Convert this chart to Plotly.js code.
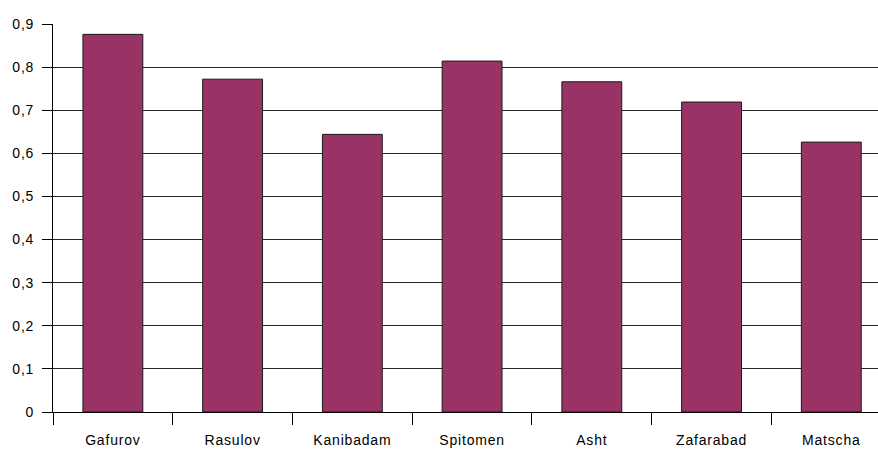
<!DOCTYPE html>
<html>
<head>
<meta charset="utf-8">
<script src="https://cdn.plot.ly/plotly-3.0.1.min.js"></script>
<style>
  html, body { margin: 0; padding: 0; background: #fff; }
  #chart { width: 878px; height: 450px; }
  .xtick text, .ytick text { letter-spacing: 0.8px; }
</style>
</head>
<body>
<div id="chart"></div>
<script>
const categories = ["Gafurov", "Rasulov", "Kanibadam", "Spitomen", "Asht", "Zafarabad", "Matscha"];
const values = [0.876, 0.772, 0.644, 0.814, 0.766, 0.719, 0.626];
const yTickValues = [0, 0.1, 0.2, 0.3, 0.4, 0.5, 0.6, 0.7, 0.8, 0.9];

const trace = {
  type: "bar",
  x: categories,
  y: values,
  marker: { color: "#993366", line: { color: "#1a1a1a", width: 1 } },
  hoverinfo: "x+y"
};

const layout = {
  width: 878,
  height: 450,
  margin: { l: 53, r: 0, t: 24, b: 38, pad: 0 },
  paper_bgcolor: "#ffffff",
  plot_bgcolor: "#ffffff",
  separators: ", ",
  showlegend: false,
  bargap: 0.5,
  font: { family: "Liberation Sans, Arial, sans-serif", size: 14, color: "#000000" },
  xaxis: {
    type: "category",
    range: [-0.5, 6.39],
    tickson: "boundaries",
    ticks: "outside",
    ticklen: 12,
    tickwidth: 1,
    tickcolor: "#000000",
    showline: true,
    linecolor: "#000000",
    linewidth: 1,
    showgrid: false,
    zeroline: false,
    ticklabelstandoff: 15,
    fixedrange: true
  },
  yaxis: {
    range: [0, 0.9],
    tickvals: yTickValues,
    tickformat: ".1~f",
    ticks: "outside",
    ticklen: 10,
    tickwidth: 1,
    tickcolor: "#000000",
    showline: true,
    linecolor: "#000000",
    linewidth: 1,
    showgrid: true,
    gridcolor: "#262626",
    gridwidth: 1,
    zeroline: false,
    ticklabelstandoff: 5,
    fixedrange: true
  }
};

Plotly.newPlot("chart", [trace], layout, { displayModeBar: false, staticPlot: true });
</script>
</body>
</html>
